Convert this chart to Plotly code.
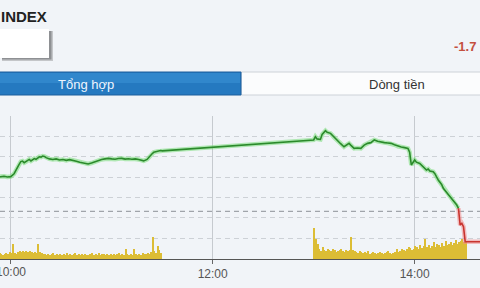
import plotly.graph_objects as go

DAY = "2024-01-01 "

# ---- price (change vs reference, index points) ----
green_times = ["09:50","09:52","09:54","09:56","09:58","10:00","10:02","10:03","10:04","10:05",
               "10:06","10:07","10:08","10:09","10:10","10:11","10:12","10:13","10:14","10:15",
               "10:16","10:17","10:18","10:19","10:20","10:21","10:23","10:25","10:27","10:29",
               "10:31","10:33","10:35","10:37","10:39","10:41","10:43","10:45","10:46","10:48",
               "10:50","10:52","10:54","10:56","10:58","11:00","11:02","11:04","11:06","11:08",
               "11:10","11:12","11:14","11:16","11:18","11:19","11:21","11:22","11:24","11:25",
               "11:27","11:29","11:30","13:00","13:01","13:02","13:04","13:05","13:07","13:08",
               "13:10","13:12","13:14","13:16","13:18","13:19","13:21","13:22","13:24","13:26",
               "13:28","13:30","13:32","13:34","13:36","13:38","13:40","13:42","13:44","13:46",
               "13:48","13:50","13:52","13:54","13:56","13:57","13:58","14:00","14:01","14:03",
               "14:05","14:07","14:08","14:09","14:11","14:12","14:13","14:14","14:16","14:17",
               "14:19","14:21","14:23","14:25","14:26"]
green_vals = [1.92,1.95,1.93,1.96,1.92,1.94,2.10,2.30,2.45,2.62,
              2.78,2.81,2.72,2.77,2.85,2.90,2.82,2.91,2.95,2.91,
              2.98,3.05,3.03,3.09,3.07,3.00,2.93,2.90,2.93,2.87,
              2.90,2.85,2.89,2.86,2.80,2.74,2.72,2.68,2.65,2.70,
              2.78,2.85,2.90,2.93,2.96,2.93,2.91,2.95,2.96,2.92,
              2.94,2.91,2.93,2.90,2.86,2.82,2.90,3.02,3.22,3.30,
              3.35,3.40,3.38,3.99,4.17,4.05,4.02,4.30,4.51,4.42,
              4.36,4.15,3.99,3.78,3.61,3.68,3.80,3.70,3.52,3.54,
              3.52,3.70,3.80,3.84,3.99,3.92,3.86,3.84,3.82,3.80,
              3.72,3.64,3.60,3.56,3.52,3.30,2.59,2.87,2.75,2.68,
              2.50,2.31,2.36,2.25,2.21,2.10,1.92,1.75,1.50,1.29,
              1.05,0.82,0.60,0.35,0.17]
red_times = ["14:26","14:27","14:28","14:29","14:30","14:45"]
red_vals = [0.17,-0.77,-0.67,-0.86,-1.70,-1.70]

# ---- volume per minute ----
vol_am_start = "09:50"
vol_am = [40,50,40,60,50,40,50,60,50,70,
          60,150,60,50,70,80,70,80,70,80,
          70,80,70,60,70,60,150,70,60,50,
          50,40,50,40,50,60,40,50,40,50,
          40,50,40,60,40,50,40,50,60,40,
          50,40,50,40,50,40,40,50,60,40,
          50,40,60,40,50,50,40,50,40,50,
          40,50,40,50,60,40,50,40,100,50,
          40,50,40,100,50,40,50,40,60,50,
          50,60,50,70,220,80,60,130,90,60]
vol_pm_start = "13:00"
vol_pm = [310,200,150,100,80,120,90,80,100,90,
          80,100,90,70,80,90,100,80,70,90,
          80,90,220,90,80,70,60,80,70,60,
          70,60,80,50,60,70,60,50,60,70,
          60,50,60,70,80,60,50,60,70,100,
          70,80,100,90,80,100,120,110,90,100,
          130,120,100,140,110,130,200,120,140,110,
          130,170,120,150,140,120,160,130,180,140,
          150,170,140,160,190,150,170,180,200,170,
          180]

x_ticks = ["10:00", "12:00", "14:00"]


def minute_series(start, n):
    h, m = map(int, start.split(":"))
    out = []
    for i in range(n):
        t = h * 60 + m + i
        out.append(f"{DAY}{t // 60:02d}:{t % 60:02d}:30")
    return out


W, H = 480, 288
def px(x):
    return x / W
def py(y):
    return 1 - y / H

FONT = "Arial, Liberation Sans, sans-serif"
BG = "#f1f4f8"

fig = go.Figure()

vx = minute_series(vol_am_start, len(vol_am)) + minute_series(vol_pm_start, len(vol_pm))
vy = vol_am + vol_pm
fig.add_trace(go.Bar(x=vx, y=vy, marker=dict(color="#dcbd35", line=dict(width=0)),
                     width=60000 * 0.85, yaxis="y", hoverinfo="skip"))

gx = [DAY + t for t in green_times]
rx = [DAY + t for t in red_times]
fig.add_trace(go.Scatter(x=gx, y=green_vals, mode="lines", yaxis="y2",
                         line=dict(color="rgba(120,220,120,0.55)", width=4.5)))
fig.add_trace(go.Scatter(x=rx, y=red_vals, mode="lines", yaxis="y2",
                         line=dict(color="rgba(240,140,140,0.55)", width=4.5)))
fig.add_trace(go.Scatter(x=gx, y=green_vals, mode="lines", yaxis="y2",
                         line=dict(color="#2b8a2b", width=1.6)))
fig.add_trace(go.Scatter(x=rx, y=red_vals, mode="lines", yaxis="y2",
                         line=dict(color="#c8342e", width=1.6)))

dom = [py(259), py(115.5)]
vmax = 1435
pmin, pmax = -2.668, 5.358

shapes = [
    # white box shadow + box
    dict(type="rect", xref="paper", yref="paper", x0=px(2), x1=px(53), y0=py(61), y1=py(31),
         fillcolor="#c4c6c9", line=dict(width=0), layer="below"),
    dict(type="rect", xref="paper", yref="paper", x0=px(2), x1=px(51.5), y0=py(59.5), y1=py(31),
         fillcolor="#8e9093", line=dict(width=0), layer="below"),
    dict(type="rect", xref="paper", yref="paper", x0=px(-2), x1=px(49), y0=py(58), y1=py(29),
         fillcolor="#ffffff", line=dict(width=0), layer="below"),
    # tabs
    dict(type="rect", xref="paper", yref="paper", x0=px(241), x1=px(482), y0=py(95), y1=py(72),
         fillcolor="#fbfcfd", line=dict(color="#cdd2d8", width=1), layer="below"),
    dict(type="rect", xref="paper", yref="paper", x0=px(-2), x1=px(241), y0=py(95), y1=py(72),
         fillcolor="#2579c0", line=dict(color="#1c5f9c", width=1), layer="below"),
    dict(type="rect", xref="paper", yref="paper", x0=px(-1), x1=px(240), y0=py(83), y1=py(73),
         fillcolor="#3187cc", line=dict(width=0), layer="below"),
    # reference line
    dict(type="line", xref="paper", yref="y2", x0=0, x1=1, y0=0, y1=0,
         line=dict(color="#8c9096", width=1, dash="5px,4px"), layer="below"),
]

annotations = [
    dict(text="<b>INDEX</b>", xref="paper", yref="paper", x=px(-1), y=py(16.5),
         xanchor="left", yanchor="middle", showarrow=False,
         font=dict(family=FONT, size=15, color="#222222")),
    dict(text="<b>-1.7</b>", xref="paper", yref="paper", x=px(452), y=py(46.5),
         xanchor="left", yanchor="middle", showarrow=False,
         font=dict(family=FONT, size=13, color="#c4503f")),
    dict(text="Tổng hợp", xref="paper", yref="paper", x=px(86), y=py(84),
         xanchor="center", yanchor="middle", showarrow=False,
         font=dict(family=FONT, size=13, color="#eef5ff")),
    dict(text="Dòng tiền", xref="paper", yref="paper", x=px(397), y=py(84),
         xanchor="center", yanchor="middle", showarrow=False,
         font=dict(family=FONT, size=13, color="#333333")),
    # first time label (partly past the left edge, as in the source)
    dict(text=x_ticks[0], xref="x", yref="paper", x=DAY + x_ticks[0], y=py(271.5),
         xanchor="center", yanchor="middle", showarrow=False,
         font=dict(family=FONT, size=12, color="#555555")),
]

fig.update_layout(
    width=W, height=H, margin=dict(l=0, r=0, t=0, b=0),
    paper_bgcolor=BG, plot_bgcolor=BG, showlegend=False, bargap=0,
    shapes=shapes, annotations=annotations,
    xaxis=dict(type="date", range=[DAY + "09:53:38", DAY + "14:38:48"],
               tickvals=[DAY + t for t in x_ticks], ticktext=[""] + x_ticks[1:],
               showgrid=True, gridcolor="#c6cacf", gridwidth=1,
               showline=True, linecolor="#555555", linewidth=1,
               ticks="outside", ticklen=4, tickcolor="#666666",
               tickfont=dict(family=FONT, size=12, color="#555555"),
               zeroline=False, fixedrange=True),
    yaxis=dict(domain=dom, range=[-0.5, vmax + 0.5],
               tickvals=[i * vmax / 7 for i in range(8)],
               showgrid=True, gridcolor="#cdd1d6", griddash="5px,4px", gridwidth=1,
               showticklabels=False, zeroline=False, showline=False, ticks=""),
    yaxis2=dict(domain=dom, overlaying="y", range=[pmin, pmax],
                showgrid=False, showticklabels=False, zeroline=False, showline=False, ticks=""),
)

fig.write_html("out.html")
